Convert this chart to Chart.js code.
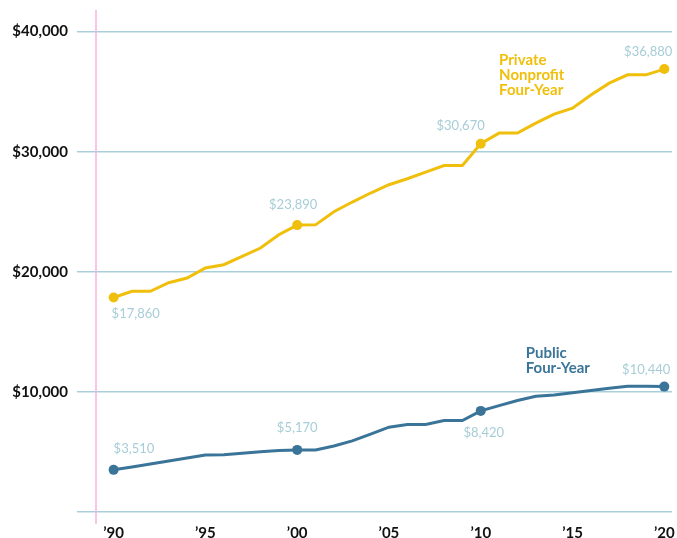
<!DOCTYPE html>
<html>
<head>
<meta charset="utf-8">
<script src="https://cdn.jsdelivr.net/npm/chart.js@4"></script>
<style>
  html, body { margin: 0; padding: 0; background: #fff; }
  #wrap { width: 677px; height: 538px; }
</style>
</head>
<body>
<div id="wrap"><canvas id="chartTuition"></canvas></div>
<script>
const years = [1990, 1991, 1992, 1993, 1994, 1995, 1996, 1997, 1998, 1999,
  2000, 2001, 2002, 2003, 2004, 2005, 2006, 2007, 2008, 2009,
  2010, 2011, 2012, 2013, 2014, 2015, 2016, 2017, 2018, 2019, 2020];
const privateCost = [17860, 18380, 18380, 19090, 19480, 20320, 20590, 21280, 21980, 23090,
  23890, 23910, 25000, 25810, 26560, 27250, 27750, 28300, 28850, 28850,
  30670, 31550, 31550, 32380, 33130, 33630, 34730, 35710, 36400, 36400, 36880];
const publicCost = [3510, 3740, 3990, 4240, 4500, 4750, 4770, 4890, 5010, 5120,
  5170, 5170, 5490, 5920, 6490, 7060, 7280, 7280, 7610, 7610,
  8420, 8860, 9290, 9640, 9750, 9920, 10110, 10300, 10470, 10470, 10440];
const markedYears = [1990, 2000, 2010, 2020];
const xTicks = [1990, 1995, 2000, 2005, 2010, 2015, 2020];
const yTicks = [0, 10000, 20000, 30000, 40000];

const gold = '#f0bf0c';
const blue = '#3a7499';
const pale = '#a7cdd7';
const font = 'Lato, "Open Sans", sans-serif';

const money = v => '$' + v.toLocaleString('en-US');

// where each value label sits relative to its dot
const privateNotes = {
  1990: { align: 'left', dx: -2, dy: 16 },
  2000: { align: 'center', dx: -4, dy: -20 },
  2010: { align: 'right', dx: 4, dy: -18 },
  2020: { align: 'right', dx: 8, dy: -17 }
};
const publicNotes = {
  1990: { align: 'left', dx: 0, dy: -21 },
  2000: { align: 'center', dx: 0, dy: -22 },
  2010: { align: 'center', dx: 3, dy: 22 },
  2020: { align: 'right', dx: 6, dy: -17 }
};
const seriesNames = [
  { lines: ['Private', 'Nonprofit', 'Four-Year'], year: 2011.0, value: 37620, color: gold },
  { lines: ['Public', 'Four-Year'], year: 2012.45, value: 13190, color: blue }
];

const dotRadius = ctx => markedYears.includes(years[ctx.dataIndex]) ? 5 : 0;

const extras = {
  id: 'extras',
  beforeDatasetsDraw(chart) {
    const c = chart.ctx, a = chart.chartArea;
    c.save();
    c.strokeStyle = '#f7b3dd';
    c.lineWidth = 1.5;
    c.beginPath();
    c.moveTo(a.left, a.top);
    c.lineTo(a.left, a.bottom + 12);
    c.stroke();
    c.restore();
  },
  afterDatasetsDraw(chart) {
    const c = chart.ctx, xs = chart.scales.x, ys = chart.scales.y;
    c.save();
    c.textBaseline = 'middle';
    c.font = '13px ' + font;
    c.fillStyle = pale;
    [[privateCost, privateNotes], [publicCost, publicNotes]].forEach(([vals, notes]) => {
      markedYears.forEach(yr => {
        const i = years.indexOf(yr), n = notes[yr];
        c.textAlign = n.align;
        c.fillText(money(vals[i]), xs.getPixelForValue(yr) + n.dx, ys.getPixelForValue(vals[i]) + n.dy);
      });
    });
    c.font = 'bold 15px ' + font;
    c.textAlign = 'left';
    seriesNames.forEach(s => {
      c.fillStyle = s.color;
      const x = xs.getPixelForValue(s.year), y = ys.getPixelForValue(s.value);
      s.lines.forEach((t, k) => c.fillText(t, x, y + k * 15));
    });
    c.restore();
  }
};

const ctx = document.getElementById('chartTuition');

new Chart(ctx, {
  type: 'line',
  data: {
    datasets: [{
      label: 'Private Nonprofit Four-Year',
      data: years.map((y, i) => ({ x: y, y: privateCost[i] })),
      borderColor: gold,
      backgroundColor: gold,
      borderWidth: 3,
      pointRadius: dotRadius,
      pointHoverRadius: 0,
      pointBorderWidth: 0
    }, {
      label: 'Public Four-Year',
      data: years.map((y, i) => ({ x: y, y: publicCost[i] })),
      borderColor: blue,
      backgroundColor: blue,
      borderWidth: 3,
      pointRadius: dotRadius,
      pointHoverRadius: 0,
      pointBorderWidth: 0
    }]
  },
  options: {
    responsive: true,
    maintainAspectRatio: false,
    animation: false,
    layout: { padding: { top: 10, right: 4, left: 0, bottom: 0 } },
    plugins: { legend: { display: false }, tooltip: { enabled: false } },
    scales: {
      x: {
        type: 'linear',
        min: 1989.04,
        max: 2020.42,
        afterBuildTicks: s => { s.ticks = xTicks.map(v => ({ value: v })); },
        afterFit: s => { s.paddingLeft = 0; s.paddingRight = 0; s.height = 26; },
        grid: { display: false, drawTicks: false },
        border: { display: false },
        ticks: {
          padding: 12,
          color: '#111',
          maxRotation: 0,
          autoSkip: false,
          font: { family: font, size: 15, weight: 'bold' },
          callback: v => '\u2019' + String(v).slice(2)
        }
      },
      y: {
        min: 0,
        max: 41800,
        afterBuildTicks: s => { s.ticks = yTicks.map(v => ({ value: v })); },
        afterFit: s => { s.width = 96; s.paddingTop = 0; s.paddingBottom = 0; },
        grid: { color: '#a9d0da', lineWidth: 1.5, tickLength: 19 },
        border: { display: false },
        ticks: {
          padding: 9,
          color: '#111',
          font: { family: font, size: 15, weight: 'bold' },
          callback: v => v === 0 ? '' : money(v)
        }
      }
    }
  },
  plugins: [extras]
});
</script>
</body>
</html>
